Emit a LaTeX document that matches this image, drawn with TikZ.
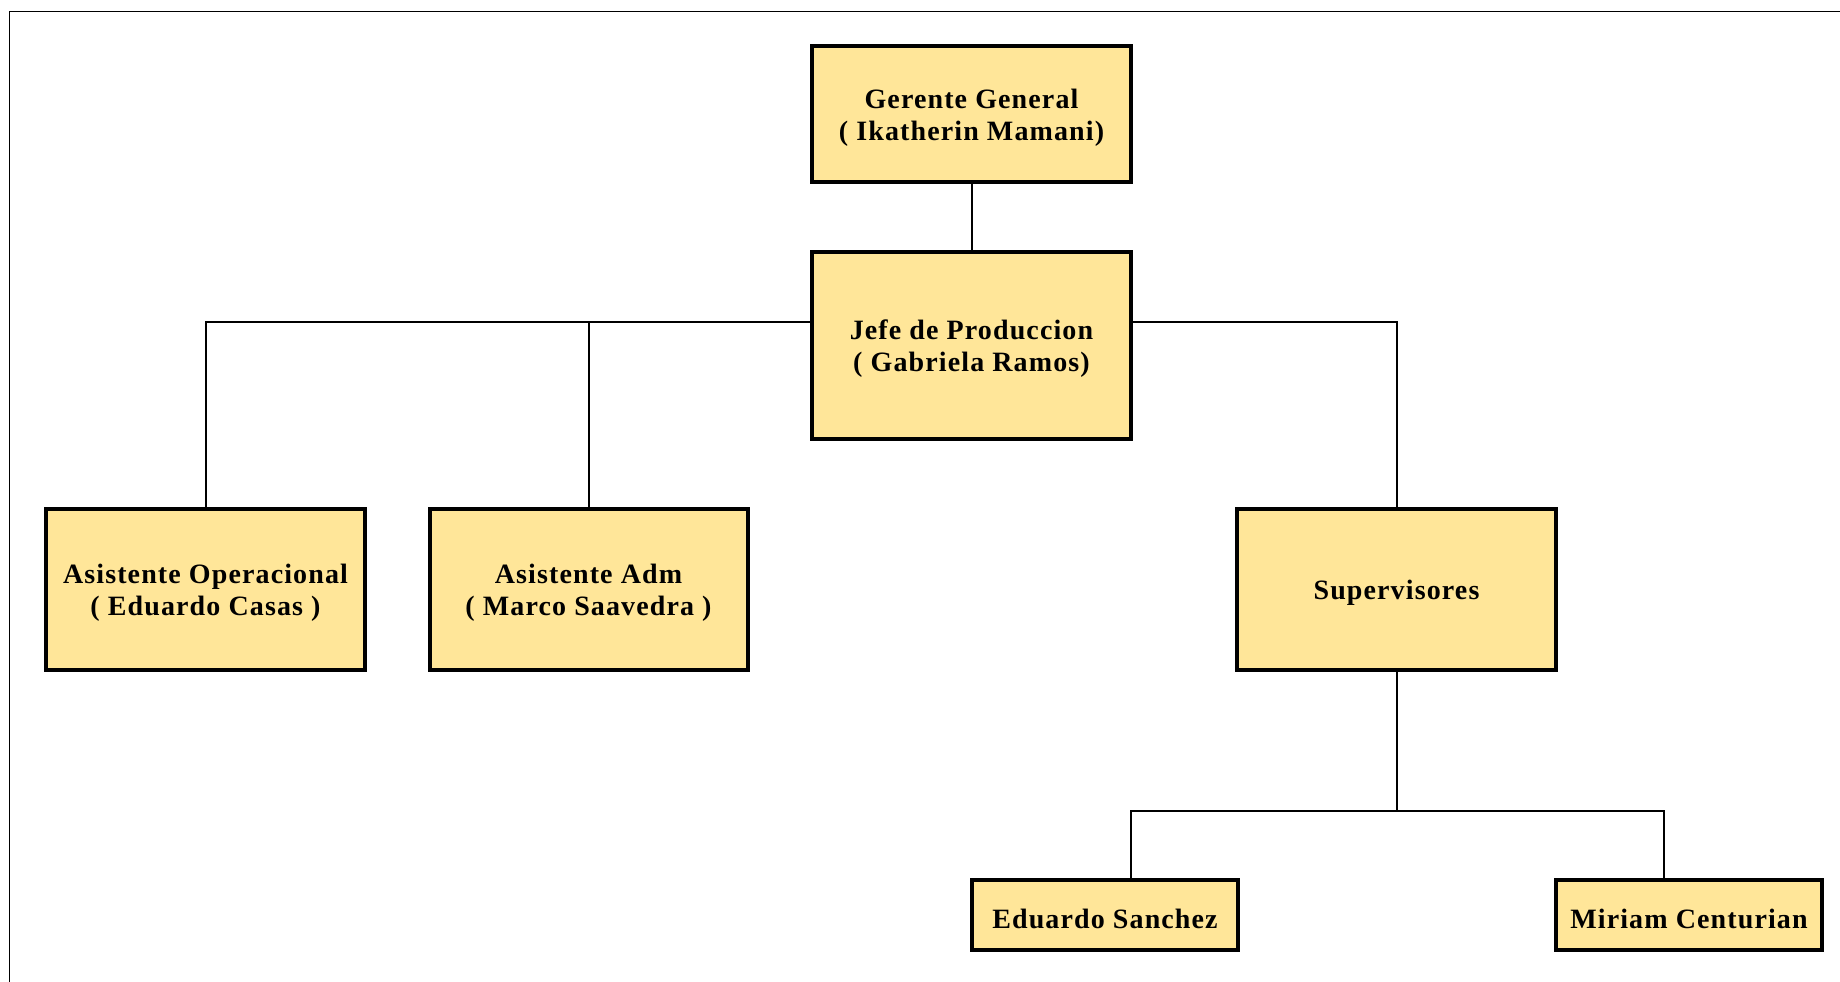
\documentclass[tikz,border=0pt]{standalone}
\usepackage{fontspec}
\setmainfont{Liberation Serif}[LetterSpace=4]
\definecolor{boxfill}{RGB}{255,230,153}
\begin{document}
\begin{tikzpicture}[x=1pt,y=-1pt,
  orgbox/.style={draw=black, line width=4pt, fill=boxfill, inner sep=0pt},
  orgtext/.style={inner sep=0pt, align=center, yshift=-3.5pt,
    font=\fontsize{28}{32}\selectfont\bfseries},
  link/.style={draw=black, line width=2pt}]
\useasboundingbox (0,0) rectangle (1840,982);
\clip (0,0) rectangle (1840,982);
\draw[line width=1.5pt] (9.5,11.5) rectangle (1860,1000);
\node[orgbox, minimum width=319pt, minimum height=136pt] (ger) at (971.5,114) {};
\node[orgbox, minimum width=319pt, minimum height=187pt] (jefe) at (971.5,345.5) {};
\node[orgbox, minimum width=319pt, minimum height=161pt] (asop) at (205.5,589.5) {};
\node[orgbox, minimum width=318pt, minimum height=161pt] (asadm) at (588.5,589.5) {};
\node[orgbox, minimum width=319pt, minimum height=161pt] (sup) at (1396.5,589.5) {};
\node[orgbox, minimum width=266pt, minimum height=70pt] (edu) at (1105,915) {};
\node[orgbox, minimum width=266pt, minimum height=70pt] (mir) at (1689,915) {};
\node[orgtext] (gerT) at (ger.center) {Gerente General\\( Ikatherin Mamani)};
\node[orgtext] (jefeT) at (jefe.center) {Jefe de Produccion\\( Gabriela Ramos)};
\node[orgtext] (asopT) at (asop.center) {Asistente Operacional\\( Eduardo Casas )};
\node[orgtext] (asadmT) at (asadm.center) {Asistente Adm\\( Marco Saavedra )};
\node[orgtext] (supT) at (sup.center) {Supervisores};
\node[orgtext] (eduT) at (edu.center) {Eduardo Sanchez};
\node[orgtext] (mirT) at (mir.center) {Miriam Centurian};
\coordinate (bus) at (1396.5,811);
\draw[link] (ger.south) -- (jefe.north);
\draw[link] ([yshift=23.5pt]jefe.west) -| (asop.north);
\draw[link] ([yshift=23.5pt]jefe.west) -| (asadm.north);
\draw[link] ([yshift=23.5pt]jefe.east) -| (sup.north);
\draw[link] (sup.south) -- (bus);
\draw[link] (bus) -| ([xshift=26pt]edu.north);
\draw[link] (bus) -| ([xshift=-25pt]mir.north);
\end{tikzpicture}
\end{document}
